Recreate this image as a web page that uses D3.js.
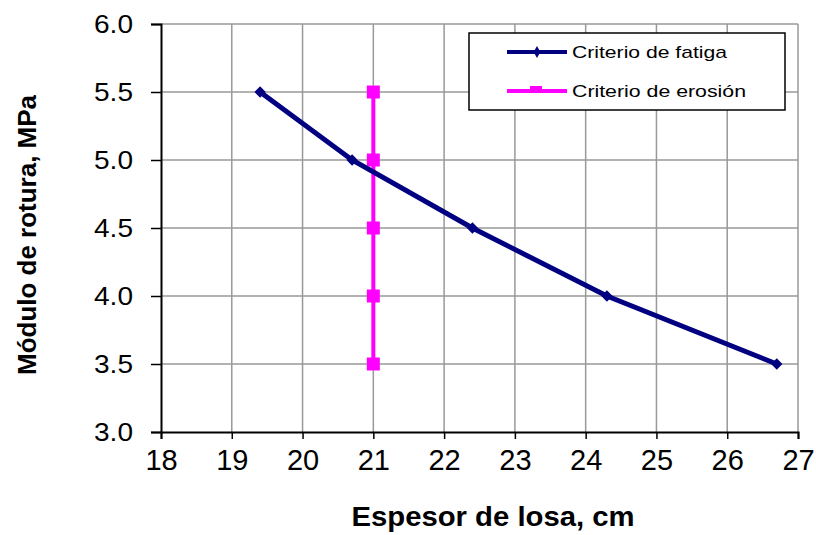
<!DOCTYPE html>
<html>
<head>
<meta charset="utf-8">
<script src="https://cdn.jsdelivr.net/npm/d3@7"></script>
<style>
  body { margin: 0; background: #fff; }
  svg text { font-family: "Liberation Sans", Arial, sans-serif; fill: #000; }
</style>
</head>
<body>
<svg id="chart" width="816" height="535"></svg>
<script>
const fatigaX = [19.4, 20.7, 22.4, 24.3, 26.7]
const fatigaY = [5.5, 5.0, 4.5, 4.0, 3.5]
const erosionX = [21, 21, 21, 21, 21]
const erosionY = [5.5, 5.0, 4.5, 4.0, 3.5]
const xTicks = [18, 19, 20, 21, 22, 23, 24, 25, 26, 27]
const yTicks = [3.0, 3.5, 4.0, 4.5, 5.0, 5.5, 6.0]
const seriesNames = ['Criterio de fatiga', 'Criterio de erosión']

const plotLeft = 161, plotRight = 798, plotTop = 24, plotBottom = 432

const svg = d3.select('#chart')
const x = d3.scaleLinear().domain([18, 27]).range([plotLeft, plotRight])
const y = d3.scaleLinear().domain([3, 6]).range([plotBottom, plotTop])

// grid
svg.append('g').selectAll('line')
  .data(xTicks.slice(1))
  .enter().append('line')
  .attr('x1', d => x(d)).attr('x2', d => x(d))
  .attr('y1', plotTop).attr('y2', plotBottom)
  .attr('stroke', '#999').attr('stroke-width', 1.5)

svg.append('g').selectAll('line')
  .data(yTicks.slice(1))
  .enter().append('line')
  .attr('x1', plotLeft).attr('x2', plotRight)
  .attr('y1', d => y(d)).attr('y2', d => y(d))
  .attr('stroke', '#999').attr('stroke-width', 1.5)

// axes
const xAxis = svg.append('g')
  .attr('transform', 'translate(0,' + plotBottom + ')')
  .call(d3.axisBottom(x).tickValues(xTicks).tickFormat(d3.format('d')).tickSizeOuter(0).tickSize(7).tickPadding(10))
const yAxis = svg.append('g')
  .attr('transform', 'translate(' + plotLeft + ',0)')
  .call(d3.axisLeft(y).tickValues(yTicks).tickFormat(d3.format('.1f')).tickSizeOuter(0).tickSize(10).tickPadding(18))

;[xAxis, yAxis].forEach(a => {
  a.select('.domain').attr('stroke', '#000').attr('stroke-width', 2)
  a.selectAll('.tick line').attr('stroke', '#000').attr('stroke-width', 1.5)
  a.selectAll('.tick text').attr('fill', '#222')
})
// the y labels are drawn a bit wider than the font
yAxis.selectAll('.tick text')
  .attr('font-size', 25)
  .attr('textLength', 39).attr('lengthAdjust', 'spacingAndGlyphs')
  .style('font-family', '"Liberation Sans", Arial, sans-serif')
xAxis.selectAll('.tick text')
  .attr('font-size', 29)
  .style('font-family', '"Liberation Sans Narrow", "Liberation Sans", Arial, sans-serif')

// axis titles
svg.append('text')
  .attr('x', 493).attr('y', 526)
  .attr('text-anchor', 'middle')
  .attr('font-size', 27).attr('font-weight', 'bold')
  .attr('fill', '#111')
  .attr('textLength', 283).attr('lengthAdjust', 'spacingAndGlyphs')
  .text('Espesor de losa, cm')

svg.append('text')
  .attr('transform', 'translate(36,235) rotate(-90)')
  .attr('text-anchor', 'middle')
  .attr('font-size', 26).attr('font-weight', 'bold')
  .attr('fill', '#111')
  .attr('textLength', 280).attr('lengthAdjust', 'spacingAndGlyphs')
  .text('Módulo de rotura, MPa')

// series
const line = d3.line().x(d => x(d[0])).y(d => y(d[1]))
const fatiga = fatigaX.map((v, i) => [v, fatigaY[i]])
const erosion = erosionX.map((v, i) => [v, erosionY[i]])

svg.append('path').datum(erosion)
  .attr('d', line).attr('fill', 'none')
  .attr('stroke', '#ff00ff').attr('stroke-width', 4)
svg.append('g').selectAll('rect')
  .data(erosion).enter().append('rect')
  .attr('x', d => x(d[0]) - 6.5).attr('y', d => y(d[1]) - 6.5)
  .attr('width', 13).attr('height', 13)
  .attr('fill', '#ff00ff')

svg.append('path').datum(fatiga)
  .attr('d', line).attr('fill', 'none')
  .attr('stroke', '#000080').attr('stroke-width', 5)
svg.append('g').selectAll('path')
  .data(fatiga).enter().append('path')
  .attr('d', d3.symbol().type(d3.symbolSquare).size(64))
  .attr('transform', d => 'translate(' + x(d[0]) + ',' + y(d[1]) + ') rotate(45)')
  .attr('fill', '#000080')

// legend
const legend = svg.append('g')
legend.append('rect')
  .attr('x', 469).attr('y', 33).attr('width', 316).attr('height', 77)
  .attr('fill', '#fff').attr('stroke', '#000').attr('stroke-width', 1.5)

const legendColors = ['#000080', '#ff00ff']
const legendWidths = [155, 174]
seriesNames.forEach((name, i) => {
  const ly = 52 + i * 39
  legend.append('line')
    .attr('x1', 507).attr('x2', 567).attr('y1', ly).attr('y2', ly)
    .attr('stroke', legendColors[i]).attr('stroke-width', 4)
  if (i === 0) {
    legend.append('path')
      .attr('d', d3.symbol().type(d3.symbolDiamond).size(40))
      .attr('transform', 'translate(537,' + ly + ')')
      .attr('fill', legendColors[i])
  } else {
    legend.append('rect')
      .attr('x', 530).attr('y', ly - 5).attr('width', 12).attr('height', 5)
      .attr('fill', legendColors[i])
  }
  legend.append('text')
    .attr('x', 572).attr('y', ly + 5.5)
    .attr('font-size', 17)
    .attr('fill', '#222')
    .attr('textLength', legendWidths[i]).attr('lengthAdjust', 'spacingAndGlyphs')
    .text(name)
})
</script>
</body>
</html>
